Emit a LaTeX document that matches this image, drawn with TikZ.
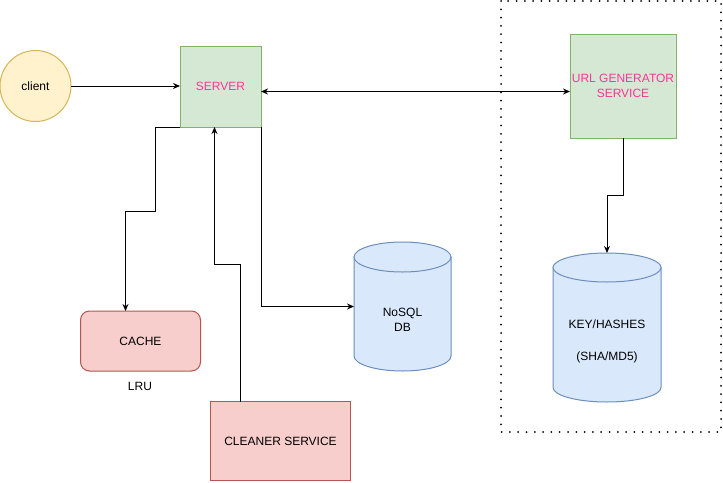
\documentclass[tikz,border=0pt]{standalone}
\usepackage{fontspec}
\setmainfont{Liberation Sans}
\usetikzlibrary{arrows.meta}
\definecolor{gfill}{HTML}{D5E8D4}
\definecolor{gline}{HTML}{82B366}
\definecolor{rfill}{HTML}{F8CECC}
\definecolor{rline}{HTML}{B85450}
\definecolor{bfill}{HTML}{DAE8FC}
\definecolor{bline}{HTML}{6C8EBF}
\definecolor{yfill}{HTML}{FFF2CC}
\definecolor{yline}{HTML}{D6B656}
\definecolor{pinktext}{HTML}{FF3399}
\tikzset{
  every node/.style={font=\fontsize{12}{14.4}\selectfont, inner sep=0pt, outer sep=0pt},
  greenbox/.style={draw=gline, fill=gfill, line width=1pt, text=pinktext, align=center},
  redbox/.style={draw=rline, fill=rfill, line width=1pt},
  dbbox/.style={inner sep=0pt},
  arr/.style={line width=1pt, -{Stealth[length=7pt,width=6pt]}},
  biarr/.style={line width=1pt, {Stealth[length=7pt,width=6pt]}-{Stealth[length=7pt,width=6pt]}},
  cylfill/.style={fill=bfill, draw=bline, line width=1pt},
}
\begin{document}
\begin{tikzpicture}[x=1pt,y=-1pt]
\useasboundingbox (0,0) rectangle (723,482);
% dotted frame
\draw[line width=2pt, line cap=round, dash pattern=on 0pt off 8.3pt] (501,1) rectangle (721,432);
% client
\node[circle, draw=yline, fill=yfill, line width=1pt, minimum size=71pt] (client) at (35.5,86) {client};
% server
\node[greenbox, minimum width=81pt, minimum height=81pt] (srv) at (220.5,86.5) {SERVER};
% url generator
\node[greenbox, minimum width=106pt, minimum height=104pt] (url) at (623,86) {URL GENERATOR\\SERVICE};
% cache
\node[redbox, rounded corners=9pt, minimum width=120pt, minimum height=60pt] (cache) at (140.5,341) {CACHE};
\node (lru) at (140,386) {LRU};
% cleaner
\node[redbox, minimum width=140.5pt, minimum height=79pt] (cln) at (280.5,441) {CLEANER SERVICE};
% NoSQL DB cylinder
\node[dbbox, minimum width=97pt, minimum height=129pt] (db) at (402.5,306.5) {};
\path[cylfill] (354,257) -- (354,356) arc[start angle=180, end angle=360, x radius=48.5pt, y radius=15pt] -- (451,257) -- cycle;
\path[cylfill] (402.5,257) ellipse [x radius=48.5pt, y radius=15pt];
\node[align=center, font=\fontsize{12}{15.3}\selectfont] (dbtxt) at (402.5,319.5) {NoSQL\\DB};
% KEY/HASHES cylinder
\node[dbbox, minimum width=108pt, minimum height=149pt] (kh) at (607,327.5) {};
\path[cylfill] (553,267.5) -- (553,387.5) arc[start angle=180, end angle=360, x radius=54pt, y radius=14.5pt] -- (661,267.5) -- cycle;
\path[cylfill] (607,267.5) ellipse [x radius=54pt, y radius=14.5pt];
\node[align=center] (khtxt) at (607,341) {KEY/HASHES\\[17.6pt](SHA/MD5)};
% connectors
\draw[arr] (client.east) -- (client.east -| srv.west);
\coordinate (sa) at ([yshift=-5pt]srv.east);
\draw[biarr] (sa) -- (sa -| url.west);
\coordinate (cachein) at ([xshift=-15pt]cache.north);
\draw[arr] (srv.south west) -- ++(-24.5,0) -- ++(0,84) -| (cachein);
\draw[arr] (srv.south east) |- (db.west);
\coordinate (clnout) at ([xshift=-40pt]cln.north);
\coordinate (srvin) at ([xshift=-6pt]srv.south);
\draw[arr] (clnout) -- ++(0,-137) -| (srvin);
\draw[arr] (url.south) -- ++(0,57) -| (kh.north);
\end{tikzpicture}
\end{document}
